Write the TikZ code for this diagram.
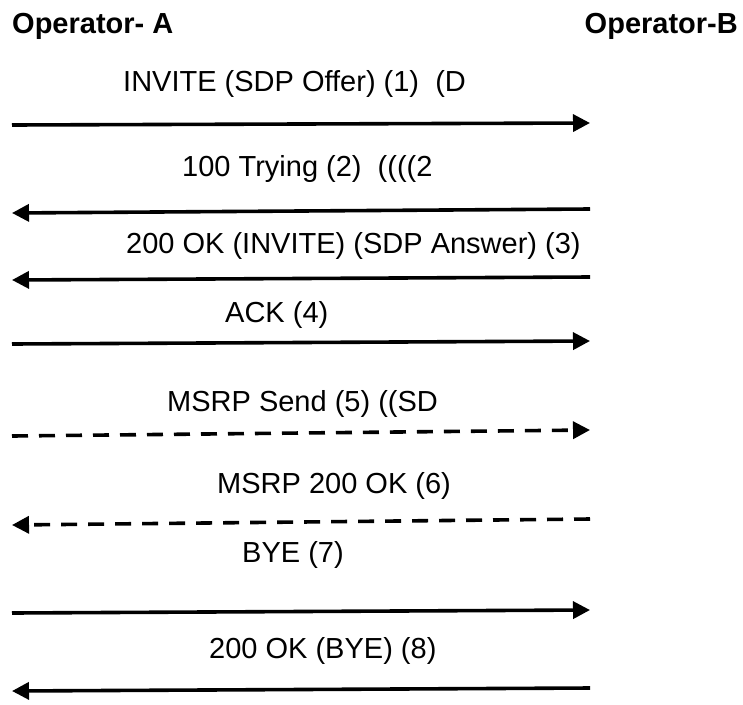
\documentclass[tikz,border=0pt]{standalone}
\usepackage{fontspec}
\setmainfont{Liberation Sans}
\usetikzlibrary{arrows.meta}
\tikzset{
  lbl/.style={inner sep=0pt, anchor=base west, font=\fontsize{29}{34}\selectfont},
  hdr/.style={inner sep=0pt, font=\fontsize{29}{34}\selectfont\bfseries},
  msg/.style={line width=3.6pt, -{Triangle[length=17pt,width=17pt]}},
  dmsg/.style={msg, dash pattern=on 16pt off 11pt},
}
\begin{document}
\begin{tikzpicture}[x=1pt,y=-1pt]
\useasboundingbox (0,0) rectangle (743,704);
% headers
\node[hdr, anchor=base west] (opA) at (12,33) {Operator- A};
\node[hdr, anchor=base east] (opB) at (738,33) {Operator-B};
% labels
\node[lbl] (l1) at (123,91) {INVITE (SDP Offer) (1)\ \ (D};
\node[lbl] (l2) at (182,176) {100 Trying (2)\ \ ((((2};
\node[lbl] (l3) at (126,253) {200 OK (INVITE) (SDP Answer) (3)};
\node[lbl] (l4) at (225,322) {ACK (4)};
\node[lbl] (l5) at (167,411) {MSRP Send (5) ((SD};
\node[lbl] (l6) at (217,493) {MSRP 200 OK (6)};
\node[lbl] (l7) at (242,562) {BYE (7)};
\node[lbl] (l8) at (209,658) {200 OK (BYE) (8)};
% arrow end points
\coordinate (a1l) at (12,125);  \coordinate (a1r) at (590,123);
\coordinate (a2l) at (12,213);  \coordinate (a2r) at (590,209);
\coordinate (a3l) at (12,280);  \coordinate (a3r) at (590,277);
\coordinate (a4l) at (12,344);  \coordinate (a4r) at (590,341);
\coordinate (a5l) at (12,436);  \coordinate (a5r) at (590,430);
\coordinate (a6l) at (12,525);  \coordinate (a6r) at (590,519);
\coordinate (a7l) at (12,613);  \coordinate (a7r) at (590,610);
\coordinate (a8l) at (12,691);  \coordinate (a8r) at (590,688);
% messages
\draw[msg] (a1l) -- (a1r);
\draw[msg] (a2r) -- (a2l);
\draw[msg] (a3r) -- (a3l);
\draw[msg] (a4l) -- (a4r);
\draw[dmsg] (a5l) -- (a5r);
\draw[dmsg] (a6r) -- (a6l);
\draw[msg] (a7l) -- (a7r);
\draw[msg] (a8r) -- (a8l);
\end{tikzpicture}
\end{document}
